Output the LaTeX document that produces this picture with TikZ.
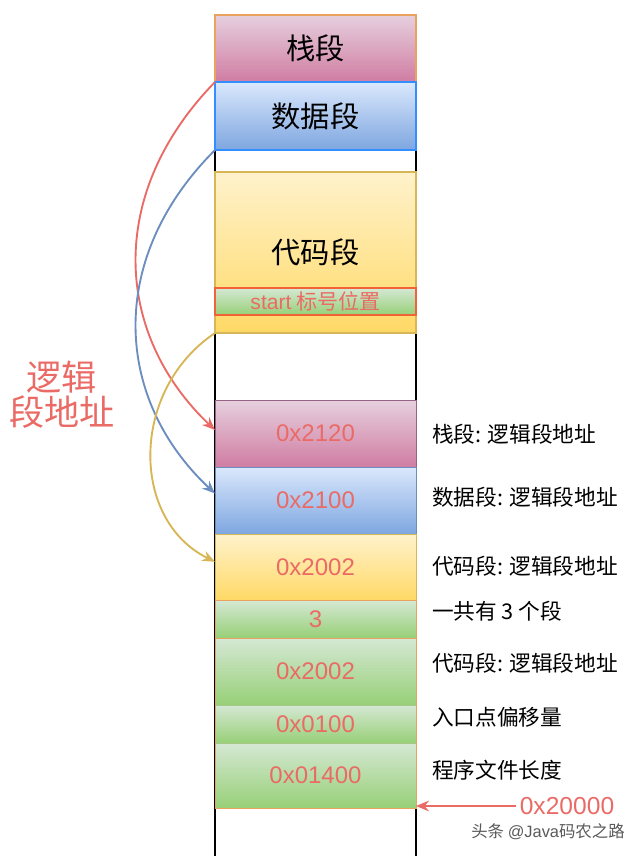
\documentclass[tikz,border=0pt]{standalone}
\usepackage{fontspec}
\setmainfont{Noto Sans CJK SC}
\newfontfamily\hexfont{Liberation Sans}
\usetikzlibrary{arrows.meta}

\definecolor{segred}{HTML}{EA6B66}
\definecolor{pinkTop}{HTML}{E6D0DE}
\definecolor{pinkBot}{HTML}{D07CA2}
\definecolor{pinkLine}{HTML}{996185}
\definecolor{blueTop}{HTML}{DAE8FC}
\definecolor{blueBot}{HTML}{7EA6E0}
\definecolor{blueLine}{HTML}{6C8EBF}
\definecolor{yelTop}{HTML}{FFF2CC}
\definecolor{yelBot}{HTML}{FFD966}
\definecolor{yelLine}{HTML}{D6B656}
\definecolor{grnTop}{HTML}{D5E8D4}
\definecolor{grnBot}{HTML}{97D077}
\definecolor{grnLine}{HTML}{A8C888}
\definecolor{orgLine}{HTML}{E9A35E}

\begin{document}
\begin{tikzpicture}[x=0.03cm, y=-0.03cm,
		blk/.style={rectangle, anchor=north west, minimum width=6.03cm, inner sep=0pt, outer sep=0pt},
		pinkblk/.style={blk, top color=pinkTop, bottom color=pinkBot},
		blueblk/.style={blk, top color=blueTop, bottom color=blueBot},
		yelblk/.style={blk, top color=yelTop, bottom color=yelBot},
		grnblk/.style={blk, top color=grnTop, bottom color=grnBot},
		big/.style={font=\fontsize{25}{28}\selectfont},
		addr/.style={font=\hexfont\fontsize{20.5}{24}\selectfont, text=segred},
		note/.style={anchor=west, font=\fontsize{18.5}{22}\selectfont},
		link/.style={line width=1.6pt, -{Stealth[length=11pt, width=9pt]}}]
	\useasboundingbox (0,0) rectangle (640,856);

	% 两边的竖线
	\draw[line width=1pt] (215,15) -- (215,856);
	\draw[line width=1pt] (416,15) -- (416,856);

	% 上面: 各个段
	\node[pinkblk, draw=orgLine, line width=1.6pt, minimum height=2.01cm, big] (stack) at (215,15) {栈段};
	\node[blueblk, draw=blue!55!cyan!80!white, line width=1.6pt, minimum height=2.04cm, big] (data) at (215,82) {数据段};
	\node[yelblk, draw=yelLine, line width=1.6pt, minimum height=4.83cm, big] (code) at (215,172) {代码段};
	\node[grnblk, draw=orgLine!60!red, line width=1pt, minimum height=0.81cm, text=segred,
		font=\fontsize{18}{20}\selectfont] (start) at (215,288) {{\hexfont start} 标号位置};

	% 下面: 头部信息
	\node[pinkblk, draw=pinkLine, line width=0.8pt, minimum height=2.01cm, addr] (stackaddr) at (215,400) {0x2120};
	\node[blueblk, draw=blueLine, line width=0.8pt, minimum height=2.01cm, addr] (dataaddr) at (215,467) {0x2100};
	\node[yelblk, draw=yelLine, line width=0.8pt, minimum height=1.98cm, addr] (codeaddr) at (215,534) {0x2002};
	\node[grnblk, draw=grnLine, line width=0.8pt, minimum height=2.01cm, addr] (codeaddr2) at (215,638) {0x2002};
	\node[grnblk, draw=grnLine, line width=0.8pt, minimum height=1.14cm, addr] (entry) at (215,705) {0x0100};
	\node[grnblk, draw=grnLine, line width=0.8pt, minimum height=1.95cm, addr] (length) at (215,743) {0x01400};
	\node[grnblk, draw=orgLine, line width=0.8pt, minimum height=1.14cm, addr] (count) at (215,600) {3};
	\draw[orgLine, line width=0.8pt] (215,600) rectangle (416,808);

	% 右边的说明
	\node[note] (n1) at (428,434) {栈段: 逻辑段地址};
	\node[note] (n2) at (428,497) {数据段: 逻辑段地址};
	\node[note] (n3) at (428,566) {代码段: 逻辑段地址};
	\node[note] (n4) at (428,611) {一共有 3 个段};
	\node[note] (n5) at (428,663) {代码段: 逻辑段地址};
	\node[note] (n6) at (428,717) {入口点偏移量};
	\node[note] (n7) at (428,770) {程序文件长度};

	% 左边的文字
	\node[align=center, text=segred, font=\fontsize{30}{30}\selectfont] (logic) at (62,395) {逻辑\\段地址};

	% 箭头
	\draw[link, segred] (stack.south west) .. controls (105,195) and (115,335) .. (stackaddr.178);
	\draw[link, blueLine] (data.south west) .. controls (105,260) and (115,400) .. (dataaddr.176);
	\draw[link, yelLine] (code.south west) .. controls (130,390) and (130,520) .. (codeaddr.177);

	% 起始地址
	\node[text=segred, font=\hexfont\fontsize{21}{24}\selectfont] (base) at (567,806) {0x20000};
	\draw[link, segred, line width=1.8pt] (base.west) -- (base.west -| length.east);

	\node[text=gray!70!black, font=\fontsize{14}{16}\selectfont] (mark) at (548,832) {头条 {\hexfont @Java}码农之路};
\end{tikzpicture}
\end{document}
